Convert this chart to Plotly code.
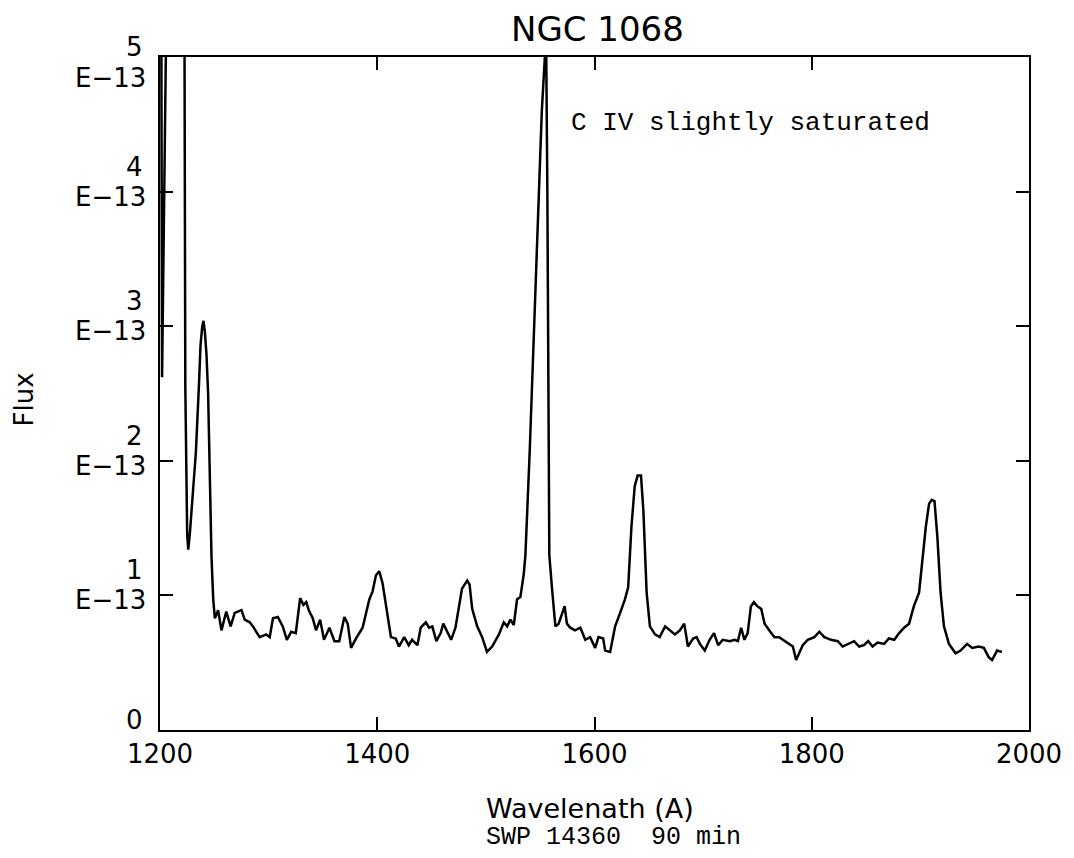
import plotly.graph_objects as go

# Wavelength (Angstrom) and flux (units of 1E-13)
wavelength = [
    1201.2, 1201.9, 1205.8, 1222.5, 1223.3, 1224.3, 1225.0, 1226.0, 1227.5, 1230.6,
    1233.0, 1236.0, 1237.3, 1238.8, 1240.0, 1241.3, 1242.8, 1244.3, 1245.9, 1247.4,
    1249.0, 1250.5, 1253.5, 1256.6, 1261.0, 1265.0, 1268.8, 1275.0, 1278.0, 1282.6,
    1285.6, 1291.7, 1297.9, 1301.0, 1304.0, 1308.5, 1313.0, 1316.8, 1320.8, 1325.0,
    1329.0, 1332.0, 1334.6, 1337.0, 1340.6, 1343.7, 1347.4, 1351.0, 1356.0, 1360.6,
    1365.0, 1369.7, 1372.8, 1375.9, 1380.5, 1386.5, 1392.7, 1395.7, 1398.8, 1401.8,
    1404.9, 1408.0, 1412.6, 1417.0, 1420.0, 1424.8, 1429.0, 1432.0, 1437.0, 1440.0,
    1444.7, 1447.7, 1450.7, 1454.4, 1458.4, 1460.8, 1464.5, 1468.0, 1472.0, 1475.0,
    1478.0, 1482.8, 1485.0, 1487.4, 1492.0, 1496.6, 1501.0, 1505.8, 1512.0, 1516.5,
    1519.6, 1522.6, 1525.7, 1528.7, 1531.8, 1534.9, 1536.4, 1540.4, 1544.7, 1548.6,
    1551.5, 1554.3, 1555.6, 1556.6, 1557.1, 1557.6, 1558.4, 1561.0, 1564.0, 1567.0,
    1570.0, 1572.5, 1574.6, 1577.7, 1582.0, 1587.0, 1591.5, 1596.0, 1600.6, 1603.7,
    1608.0, 1609.8, 1614.4, 1616.0, 1619.0, 1623.6, 1628.0, 1631.0, 1634.0, 1637.0,
    1639.7, 1642.8, 1645.0, 1648.0, 1651.0, 1655.7, 1660.0, 1665.0, 1669.4, 1674.0,
    1678.6, 1682.6, 1686.0, 1690.8, 1694.0, 1697.0, 1701.5, 1706.0, 1710.0, 1713.8,
    1718.0, 1724.5, 1729.0, 1732.0, 1735.0, 1738.0, 1741.0, 1744.0, 1746.8, 1749.8,
    1753.5, 1756.6, 1761.0, 1765.7, 1770.0, 1775.0, 1779.5, 1782.6, 1785.6, 1788.7,
    1791.7, 1796.3, 1802.4, 1807.0, 1811.6, 1817.7, 1824.0, 1828.4, 1833.0, 1839.0,
    1843.6, 1848.0, 1852.0, 1856.0, 1860.6, 1866.7, 1871.0, 1876.0, 1880.5, 1885.0,
    1889.6, 1894.0, 1898.8, 1901.8, 1905.0, 1908.0, 1910.4, 1913.0, 1915.6, 1918.6,
    1921.7, 1926.3, 1932.4, 1937.0, 1943.0, 1947.7, 1953.8, 1958.4, 1963.0, 1966.0,
    1970.6, 1975.0,
]
flux = [
    5.3, 2.62, 5.3, 5.3, 2.56, 1.80, 1.46, 1.34, 1.46, 1.80,
    2.06, 2.59, 2.86, 2.99, 3.04, 2.96, 2.79, 2.50, 1.80, 1.29,
    0.97, 0.83, 0.89, 0.74, 0.88, 0.77, 0.87, 0.89, 0.82, 0.80,
    0.77, 0.69, 0.71, 0.69, 0.83, 0.84, 0.77, 0.67, 0.73, 0.72,
    0.98, 0.93, 0.95, 0.89, 0.83, 0.74, 0.82, 0.67, 0.76, 0.66,
    0.66, 0.84, 0.79, 0.61, 0.68, 0.76, 0.97, 1.03, 1.15, 1.18,
    1.09, 0.92, 0.69, 0.68, 0.62, 0.69, 0.63, 0.67, 0.63, 0.76,
    0.80, 0.76, 0.77, 0.66, 0.72, 0.79, 0.73, 0.67, 0.76, 0.92,
    1.05, 1.11, 1.08, 0.90, 0.77, 0.69, 0.58, 0.62, 0.71, 0.80,
    0.77, 0.82, 0.78, 0.97, 0.99, 1.16, 1.30, 2.08, 3.07, 4.06,
    4.60, 5.00, 5.00, 4.00, 3.00, 2.00, 1.30, 1.04, 0.77, 0.79,
    0.87, 0.92, 0.79, 0.76, 0.74, 0.76, 0.67, 0.69, 0.61, 0.69,
    0.68, 0.59, 0.58, 0.65, 0.77, 0.87, 0.97, 1.06, 1.51, 1.81,
    1.89, 1.89, 1.63, 1.02, 0.77, 0.71, 0.69, 0.77, 0.74, 0.71,
    0.74, 0.79, 0.62, 0.68, 0.69, 0.64, 0.59, 0.67, 0.72, 0.63,
    0.67, 0.66, 0.67, 0.66, 0.76, 0.67, 0.72, 0.92, 0.95, 0.92,
    0.90, 0.79, 0.74, 0.69, 0.69, 0.66, 0.64, 0.62, 0.52, 0.57,
    0.63, 0.67, 0.69, 0.73, 0.69, 0.67, 0.66, 0.62, 0.64, 0.66,
    0.62, 0.63, 0.66, 0.62, 0.65, 0.64, 0.68, 0.67, 0.72, 0.76,
    0.79, 0.92, 1.02, 1.26, 1.51, 1.68, 1.71, 1.70, 1.44, 1.02,
    0.77, 0.64, 0.57, 0.59, 0.64, 0.61, 0.62, 0.61, 0.54, 0.52,
    0.59, 0.58,
]

x_ticks = [1200, 1400, 1600, 1800, 2000]
y_ticks = [0, 1, 2, 3, 4, 5]
y_tick_numbers = ["0", "1", "2", "3", "4", "5"]
y_tick_exponent = "E\u221213"

title_text = "NGC 1068"
note_text = "C IV slightly saturated"
x_title = "Wavelenath (A)"
x_subtitle = "SWP 14360  90 min"
y_title = "Flux"

SANS = "DejaVu Sans"
MONO = "Liberation Mono"

fig = go.Figure()
fig.add_trace(go.Scatter(
    x=wavelength, y=flux, mode="lines",
    line=dict(color="black", width=2.5),
    showlegend=False, hoverinfo="skip",
))

axis_common = dict(
    showline=True, linecolor="black", linewidth=2, mirror="ticks",
    ticks="inside", ticklen=13, tickwidth=2, tickcolor="black",
    showgrid=False, zeroline=False,
)

# figure is offset 8px by the page's body margin; size compensates
fig.update_layout(
    width=1066, height=850,
    margin=dict(l=152, r=42, t=49, b=128),
    paper_bgcolor="white", plot_bgcolor="white",
    xaxis=dict(range=[1200, 2000], tickvals=x_ticks,
               ticktext=[str(v) for v in x_ticks],
               tickfont=dict(family=SANS, size=26, color="black"),
               **axis_common),
    yaxis=dict(range=[0, 5], tickvals=y_ticks, showticklabels=False,
               **axis_common),
)

annotations = []
# y tick labels: number above, exponent below each tick
for v, num in zip(y_ticks, y_tick_numbers):
    if v == 5:
        num_shift, exp_shift = 10, -21
    elif v == 0:
        num_shift, exp_shift = 10, None
    else:
        num_shift, exp_shift = 25, -5
    annotations.append(dict(
        x=0, xref="paper", y=v, yref="y", text=num, showarrow=False,
        xanchor="right", yanchor="middle", xshift=-15, yshift=num_shift,
        font=dict(family=SANS, size=26, color="black"),
    ))
    if exp_shift is not None:
        annotations.append(dict(
            x=0, xref="paper", y=v, yref="y", text=y_tick_exponent,
            showarrow=False, xanchor="right", yanchor="middle",
            xshift=-12, yshift=exp_shift,
            font=dict(family=SANS, size=26, color="black"),
        ))

# title
annotations.append(dict(
    x=0.504, xref="paper", y=1, yref="paper", text=title_text, showarrow=False,
    xanchor="center", yanchor="middle", yshift=28,
    font=dict(family=SANS, size=34, color="black"),
))
# note inside plot
annotations.append(dict(
    x=(570 - 160) / 872, xref="paper", y=1, yref="paper", text=note_text,
    showarrow=False, xanchor="left", yanchor="middle", yshift=-66,
    font=dict(family=MONO, size=26, color="black"),
))
# y axis title
annotations.append(dict(
    x=0, xref="paper", y=0.5, yref="paper", text=y_title, showarrow=False,
    textangle=-90, xanchor="center", yanchor="middle", xshift=-137, yshift=-6,
    font=dict(family=SANS, size=26, color="black"),
))
# x axis title and subtitle
annotations.append(dict(
    x=(485 - 160) / 872, xref="paper", y=0, yref="paper", text=x_title,
    showarrow=False, xanchor="left", yanchor="middle", yshift=-78,
    font=dict(family=SANS, size=27, color="black"),
))
annotations.append(dict(
    x=(485 - 160) / 872, xref="paper", y=0, yref="paper", text=x_subtitle,
    showarrow=False, xanchor="left", yanchor="middle", yshift=-107,
    font=dict(family=MONO, size=25, color="black"),
))

fig.update_layout(annotations=annotations)
fig.write_html("out.html")
